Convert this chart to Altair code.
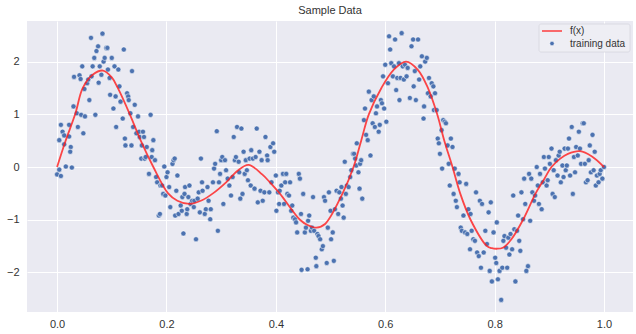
import altair as alt
import pandas as pd

# ---- f(x) curve ----
fx_x = [0.0, 0.015, 0.033, 0.047, 0.065, 0.084, 0.1, 0.111, 0.133, 0.153, 0.176,
        0.203, 0.22, 0.242, 0.265, 0.285, 0.31, 0.33, 0.35, 0.375, 0.39, 0.407,
        0.444, 0.458, 0.474, 0.49, 0.522, 0.542, 0.556, 0.570, 0.593, 0.615,
        0.638, 0.66, 0.678, 0.695, 0.708, 0.723, 0.737, 0.756, 0.786, 0.795,
        0.804, 0.815, 0.83, 0.852, 0.875, 0.89, 0.904, 0.92, 0.934, 0.956,
        0.978, 1.0]
fx_y = [0.0, 0.48, 1.0, 1.5, 1.75, 1.83, 1.7, 1.5, 1.0, 0.5, 0.0,
        -0.5, -0.64, -0.7, -0.63, -0.5, -0.28, -0.07, 0.04, -0.14, -0.3, -0.5,
        -1.0, -1.1, -1.15, -1.08, -0.5, 0.0, 0.5, 1.0, 1.5, 1.84,
        2.0, 1.84, 1.5, 1.0, 0.5, 0.0, -0.5, -1.0, -1.5, -1.54,
        -1.55, -1.53, -1.38, -1.0, -0.5, -0.24, 0.0, 0.16, 0.25, 0.3,
        0.2, 0.0]

# ---- training data ----
train_x = [
    0.0, 0.004, 0.007, 0.004, 0.007, 0.01, 0.013, 0.013, 0.016, 0.022,
    0.022, 0.025, 0.024, 0.027, 0.03, 0.031, 0.036, 0.038, 0.041, 0.043,
    0.044, 0.046, 0.048, 0.05, 0.051, 0.055, 0.057, 0.059, 0.062, 0.063,
    0.065, 0.068, 0.07, 0.072, 0.075, 0.076, 0.078, 0.081, 0.083, 0.085,
    0.087, 0.09, 0.092, 0.093, 0.096, 0.097, 0.1, 0.103, 0.105, 0.107,
    0.108, 0.112, 0.114, 0.116, 0.12, 0.122, 0.124, 0.125, 0.128, 0.13,
    0.131, 0.134, 0.136, 0.137, 0.139, 0.142, 0.145, 0.148, 0.15, 0.151,
    0.154, 0.155, 0.157, 0.159, 0.16, 0.162, 0.164, 0.168, 0.171, 0.173,
    0.174, 0.176, 0.179, 0.181, 0.183, 0.186, 0.188, 0.189, 0.192, 0.194,
    0.196, 0.198, 0.2, 0.202,
    0.205, 0.207, 0.211, 0.213, 0.215, 0.216, 0.218, 0.22, 0.222, 0.226,
    0.228, 0.229, 0.231, 0.233, 0.234, 0.237, 0.238, 0.24, 0.242, 0.244,
    0.247, 0.25, 0.251, 0.254, 0.257, 0.259, 0.261, 0.263, 0.265, 0.266,
    0.27, 0.272, 0.275, 0.277, 0.28, 0.281, 0.285, 0.287, 0.289, 0.292,
    0.294, 0.296, 0.298, 0.3, 0.302, 0.304, 0.307, 0.309, 0.312, 0.315,
    0.318, 0.321, 0.323, 0.325, 0.327, 0.329, 0.332, 0.333, 0.335, 0.337,
    0.339, 0.341, 0.343, 0.345, 0.347, 0.349,
    0.352, 0.354, 0.355, 0.358, 0.361, 0.363, 0.365, 0.367, 0.37, 0.372,
    0.374, 0.376, 0.379, 0.381, 0.384, 0.385, 0.388, 0.39, 0.392, 0.395,
    0.397, 0.4, 0.401, 0.404, 0.406, 0.407, 0.41, 0.413, 0.415, 0.417,
    0.419, 0.421, 0.424, 0.426, 0.428, 0.43, 0.432, 0.435, 0.437, 0.439,
    0.442, 0.444, 0.446, 0.447, 0.45, 0.453, 0.455, 0.458, 0.459, 0.461,
    0.464, 0.466, 0.468, 0.47, 0.473, 0.474, 0.476, 0.478, 0.481, 0.484,
    0.486, 0.488, 0.49, 0.493, 0.495, 0.497, 0.5, 0.501, 0.504, 0.506,
    0.508, 0.511, 0.514, 0.516, 0.519, 0.52, 0.522, 0.524, 0.526, 0.528,
    0.53, 0.533, 0.536, 0.538, 0.541, 0.543, 0.545, 0.547, 0.548, 0.551,
    0.553, 0.554, 0.556, 0.558, 0.561, 0.563, 0.565, 0.568, 0.57, 0.573,
    0.575, 0.577, 0.579, 0.581, 0.583, 0.585, 0.588, 0.59, 0.592, 0.594,
    0.596, 0.598, 0.6, 0.602, 0.605, 0.607, 0.609, 0.611, 0.614, 0.616,
    0.618, 0.62, 0.622, 0.625, 0.626, 0.628, 0.63, 0.632, 0.634, 0.636,
    0.639, 0.641, 0.645, 0.648, 0.651, 0.652, 0.654, 0.656, 0.66, 0.662,
    0.664, 0.667, 0.67, 0.671, 0.673, 0.676, 0.678, 0.68, 0.683, 0.685,
    0.688, 0.689, 0.691, 0.694, 0.696, 0.698, 0.7, 0.703, 0.704, 0.706,
    0.709, 0.711, 0.714, 0.716, 0.718, 0.72, 0.723, 0.725, 0.727, 0.729,
    0.731, 0.734, 0.736, 0.738, 0.74, 0.743, 0.746, 0.748, 0.75, 0.752,
    0.755, 0.756, 0.758, 0.761, 0.764, 0.766, 0.768, 0.771, 0.773, 0.775,
    0.777, 0.78, 0.783, 0.786, 0.789, 0.791, 0.793, 0.795, 0.798, 0.801,
    0.803, 0.804, 0.806, 0.809, 0.812, 0.814, 0.816, 0.818, 0.821, 0.823,
    0.825, 0.827, 0.829, 0.832, 0.834, 0.836, 0.838, 0.841, 0.843, 0.845,
    0.847, 0.849, 0.852, 0.854, 0.856, 0.858, 0.861, 0.863, 0.865, 0.867,
    0.869, 0.872, 0.874, 0.877, 0.879, 0.881, 0.883, 0.886, 0.888, 0.89,
    0.892, 0.895, 0.897, 0.899, 0.901, 0.904, 0.906, 0.908, 0.91, 0.912,
    0.915, 0.917, 0.919, 0.921, 0.924, 0.926, 0.928, 0.93, 0.932, 0.934,
    0.936, 0.938, 0.941, 0.943, 0.945, 0.947, 0.949, 0.952, 0.954, 0.956,
    0.958, 0.961, 0.963, 0.965, 0.967, 0.97, 0.972, 0.974, 0.976, 0.979,
    0.981, 0.983, 0.985, 0.987, 0.99, 0.992, 0.994, 0.997, 1.0,
]
train_y = [
    -0.14, -0.05, -0.17, 0.51, 0.80, 0.67, 0.60, 0.43, 0.01, 0.80,
    0.58, 0.38, 0.29, -0.01, 1.15, 1.71, 1.02, 0.76, 1.74, 1.67,
    0.99, 1.91, 0.64, 1.48, 0.96, 1.59, 1.66, 1.27, 2.45, 1.72,
    1.91, 2.07, 0.99, 2.2, 2.29, 1.6, 1.91, 1.75, 2.53, 2.0,
    2.07, 2.26, 2.26, 1.85, 1.69, 1.37, 2.07, 1.11, 1.91, 1.34,
    0.76, 1.85, 1.53, 1.24, 0.92, 2.23, 0.54, 0.41, 1.4, 1.34,
    1.27, 1.02, 0.41, 1.82, 0.76, 1.18, 0.64, 0.96, 0.67, 0.57,
    0.16, 0.41, 0.67, 0.57, 0.16, 0.19, 0.38, -0.13, 0.99, 0.19,
    0.32, 0.51, 0.13, -0.19, -0.29, -0.92, -0.89, -0.35, -0.35, -0.51,
    0.01, -0.54, -0.19, -0.10,
    -0.38, -0.76, 0.06, 0.13, 0.16, -0.92, -0.45, -0.16, -0.89, -0.73,
    -0.83, -0.57, -1.26, -0.51, -0.38, -0.89, -0.8, -0.57, -0.35, -0.7,
    -0.64, -0.76, -0.64, -1.37, -0.6, -0.48, -0.86, 0.16, -0.29, -0.45,
    -0.89, -0.8, -0.38, -0.64, -0.99, -0.8, -0.29, -0.03, 0.06, 0.68,
    -1.21, -0.29, -0.13, 0.13, 0.19, -0.7, 0.13, -0.06, -0.22, -0.35,
    -0.54, -0.19, 0.57, 0.13, 0.19, 0.76, 0.1, -0.1, -0.6, 0.73,
    -0.51, 0.29, -0.13, 0.13, -0.06, -0.25,
    0.16, -0.35, 0.32, 0.16, -0.41, 0.19, 0.73, -0.67, 0.29, -0.45,
    0.13, -0.64, -0.48, 0.57, 0.22, 0.13, -0.48, 0.38, -0.29, 0.45,
    0.29, -0.16, -0.83, -0.48, -0.7, -0.45, -0.35, -0.13, -0.7, -0.29,
    -0.13, -0.51, -0.54, -0.29, -0.83, -0.73, -0.96, -0.99, -1.05, -1.24,
    -0.13, -0.22, -0.89, -1.95, -0.51, -1.24, -1.15, -1.94, -1.02, -0.92,
    -1.21, -1.15, -0.57, -1.21, -1.72, -1.88, -1.27, -1.31, -1.37, -1.56,
    -1.5, -0.57, -0.64, -1.82, -1.15, -0.48, -0.83, -1.37, -1.24, -1.78,
    -0.8, -0.45, -0.89, -0.48, -0.6, -0.38, -0.73, -0.96, 0.1, -0.51,
    -0.35, -0.38, -0.19, -0.06, 0.25, 0.25, 0.16, 0.03, 0.45, -0.1,
    -0.41, 0.06, 0.13, -0.6, 0.89, 1.11, 0.61, 0.51, 1.43, 0.22,
    1.27, 0.83, 1.34, 0.76, 1.02, 1.15, 0.67, 0.8, 1.27, 1.21,
    1.72, 1.11, 1.94, 0.86, 1.59, 2.48, 2.23, 1.97, 1.72, 1.91,
    2.42, 1.46, 1.69, 1.97, 1.27, 1.69, 2.54, 1.91, 1.66, 1.94,
    1.72, 1.88, 1.31, 2.29, 2.42, 1.53, 1.82, 1.27, 2.42, 1.66,
    1.91, 2.1, 0.92, 1.15, 2.0, 2.07, 1.4, 1.69, 1.34, 1.59,
    1.53, 1.08, 1.4, 1.08, 0.54, 0.45, 0.25, 0.7, -0.03, 0.89,
    0.86, 0.83, 0.41, 0.06, -0.35, 0.54, 0.38, -0.51, -0.03, -0.64,
    -0.76, -0.13, -0.29, -1.15, -1.21, -0.92, -1.24, -0.32, -1.27, -0.8,
    -1.56, -0.89, -1.21, -1.37, -1.4, -0.48, -1.62, -1.69, -0.64, -1.91,
    -0.7, -1.62, -1.21, -1.46, -0.86, -1.97, -0.67, -2.17, -1.24, -1.72,
    -1.82, -1.05, -2.13, -1.97, -2.52, -1.91, -1.4, -1.31, -1.53, -1.91,
    -1.34, -1.66, -1.27, -1.56, -0.54, -1.18, -2.17, -1.21, -0.92, -1.4,
    -1.59, -0.48, -0.99, -0.22, -0.7, -1.97, -1.88, -0.13, -1.02, -0.22,
    -0.48, -0.64, -0.54, 0.0, -0.35, -0.7, -0.13, -0.8, -0.29, 0.19,
    -0.03, -0.35, -0.25, 0.19, 0.06, 0.35, -0.51, -0.06, -0.57, 0.13,
    -0.16, 0.22, 0.29, -0.29, 0.03, -0.19, 0.35, -0.06, 0.03, 0.35,
    0.54, -0.16, 0.76, -0.51, 0.19, -0.1, 0.38, 0.22, 0.67, 0.35,
    0.06, 0.83, 0.83, 0.06, -0.29, -0.25, 0.13, 0.41, -0.1, 0.61,
    -0.06, 0.29, -0.35, -0.16, -0.29, -0.13, -0.06, -0.22, 0.0,
]

x_ticks = [0.0, 0.2, 0.4, 0.6, 0.8, 1.0]
y_ticks = [-2, -1, 0, 1, 2]
legend_labels = ["f(x)", "training data"]

FONT = "Liberation Sans"
TXT = "#333333"
BLUE = "#4C72B0"

fx_df = pd.DataFrame({"x": fx_x, "y": fx_y})
tr_df = pd.DataFrame({"x": train_x, "y": train_y})

xscale = alt.Scale(domain=[-0.055, 1.053], nice=False, zero=False)
yscale = alt.Scale(domain=[-2.75, 2.77], nice=False, zero=False)

xaxis = alt.Axis(values=x_ticks, format=".1f", title=None, grid=True,
                 gridColor="white", gridWidth=1, ticks=False, tickSize=0,
                 domain=False, labelPadding=6, labelFontSize=11,
                 labelFont=FONT, labelColor=TXT)
yaxis = alt.Axis(values=y_ticks, format="d", title=None, grid=True,
                 gridColor="white", gridWidth=1, ticks=False, tickSize=0,
                 domain=False, labelPadding=8, labelFontSize=11,
                 labelFont=FONT, labelColor=TXT)

points = alt.Chart(tr_df).mark_point(
    filled=True, shape="circle", size=26, color=BLUE, opacity=1,
    stroke="white", strokeWidth=0.5
).encode(
    x=alt.X("x:Q", scale=xscale, axis=xaxis),
    y=alt.Y("y:Q", scale=yscale, axis=yaxis),
)

line = alt.Chart(fx_df).mark_line(
    color="#ff1a1a", strokeWidth=1.8, opacity=0.8, interpolate="catmull-rom"
).encode(
    x=alt.X("x:Q", scale=xscale),
    y=alt.Y("y:Q", scale=yscale),
)

one = pd.DataFrame({"a": [0]})
leg_box = alt.Chart(one).mark_rect(
    fill="#eeeef4", stroke="#d6d6de", strokeWidth=0.8, cornerRadius=2
).encode(x=alt.value(512), x2=alt.value(603), y=alt.value(3), y2=alt.value(31))
leg_line = alt.Chart(one).mark_rule(
    color="#ff1a1a", strokeWidth=1.8, opacity=0.7
).encode(x=alt.value(515), x2=alt.value(535), y=alt.value(10))
leg_dot = alt.Chart(one).mark_point(
    filled=True, shape="circle", size=20, color=BLUE, opacity=1,
    stroke="white", strokeWidth=0.5
).encode(x=alt.value(525), y=alt.value(22.5))
leg_t1 = alt.Chart(one).mark_text(
    align="left", baseline="middle", font=FONT, fontSize=10, color=TXT
).encode(x=alt.value(543), y=alt.value(10), text=alt.value(legend_labels[0]))
leg_t2 = alt.Chart(one).mark_text(
    align="left", baseline="middle", font=FONT, fontSize=10, color=TXT
).encode(x=alt.value(543), y=alt.value(22.5), text=alt.value(legend_labels[1]))

chart = alt.layer(
    points, line, leg_box, leg_line, leg_dot, leg_t1, leg_t2
).properties(
    width=606, height=291,
    title=alt.TitleParams("Sample Data", font=FONT, fontSize=11,
                          fontWeight="normal", color=TXT, offset=5),
    padding={"left": 27, "top": 21, "right": 3, "bottom": 22},
    autosize=alt.AutoSizeParams(type="none"),
    background="white",
).configure_view(
    fill="#EAEAF2", stroke=None
)

chart.save("out.html", embed_options={"renderer": "svg", "actions": False})
